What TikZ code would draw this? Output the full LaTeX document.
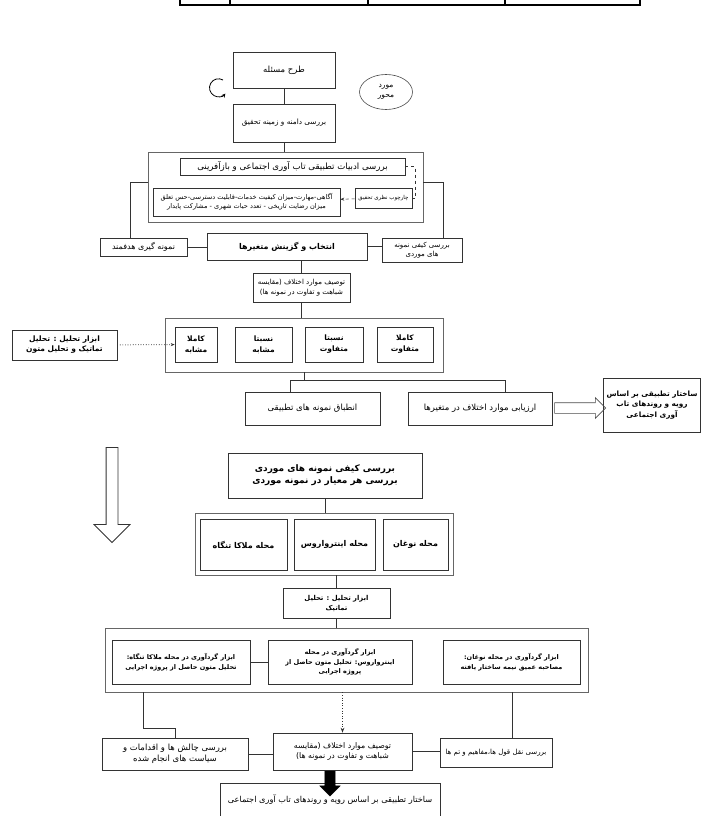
\documentclass[tikz,border=0pt]{standalone}
\usepackage{fontspec}
\usepackage{tikz}
\usetikzlibrary{shapes.geometric,shapes.arrows,arrows.meta,positioning}
\newfontfamily\farsi[Script=Arabic]{DejaVu Sans}
\TeXXeTstate=1
\newcommand{\fa}[1]{{\farsi\beginR #1\endR}}
\tikzset
{
    box/.style      = {draw=black!80, line width=0.6pt, align=center, inner sep=1pt, fill=white},
    outerbox/.style = {draw=black!60, line width=0.8pt, inner sep=0pt},
    link/.style     = {draw=black!80, line width=0.6pt},
    fs/.style 2 args  = {font=\fontsize{#1}{#2}\selectfont},
    fsb/.style 2 args = {font=\fontsize{#1}{#2}\selectfont\bfseries}
}
\begin{document}
\begin{tikzpicture}[x=1pt, y=-1pt]
    \useasboundingbox (0,0) rectangle (704,816);
    \draw[line width=1.2pt] (180,0) -- (180,5) -- (640,5) -- (640,0);
    \foreach \x in {230,368,505} \draw[line width=1.2pt] (\x,0) -- (\x,5);

    \node[box, fs={8.5}{10}, minimum width=102pt, minimum height=36pt] (problem) at (284,70) {\fa{طرح مسئله}};
    \node[draw=black!70, ellipse, line width=0.6pt, align=center, inner sep=0pt, minimum width=53pt, minimum height=35pt, fs={7.5}{9.5}] (focus) at (386,92) {\fa{مورد}\\\fa{محور}};
    \node[box, fs={7.3}{9}, minimum width=102pt, minimum height=38pt] (scope) at (284,123) {\fa{بررسی دامنه و زمینه تحقیق}};
    \draw[link] (problem) -- (scope);
    \draw[-{Stealth[length=4pt, width=4pt]}, line width=0.8pt] (223,80) arc[start angle=-60, end angle=-320, radius=9];

    \node[outerbox, minimum width=275pt, minimum height=70pt] (litframe) at (285.5,187) {};
    \draw[link] (scope) -- (scope |- litframe.north);
    \node[box, fs={8.6}{10}, minimum width=225pt, minimum height=17pt] (literature) at (292.5,166.5) {\fa{بررسی ادبیات تطبیقی تاب آوری اجتماعی و بازآفرینی}};
    \node[box, fs={6.6}{9}, minimum width=187pt, minimum height=28pt] (indicators) at (246.5,202) {\fa{آگاهی-مهارت-میزان کیفیت خدمات-قابلیت دسترسی-حس تعلق}\\\fa{میزان رضایت تاریخی - تعدد حیات شهری - مشارکت پایدار}};
    \node[box, fs={5.5}{7}, minimum width=57pt, minimum height=20pt] (framework) at (383.5,198) {\fa{چارچوب نظری تحقیق}};
    \draw[link, dashed] (literature.east) -- ++(10,0) |- (framework.east);
    \draw[link, dashed, -{Stealth[length=4pt]}] (framework) -- (indicators);

    \node[box, fs={8}{10}, minimum width=87pt, minimum height=18pt] (sampling) at (143.5,247) {\fa{نمونه گیری هدفمند}};
    \node[box, fsb={8}{10}, minimum width=160pt, minimum height=27pt] (selection) at (287,246.5) {\fa{انتخاب و گزینش متغیرها}};
    \node[box, fs={7}{9}, minimum width=80pt, minimum height=24pt] (casestudy) at (422,250) {\fa{بررسی کیفی نمونه}\\\fa{های موردی}};
    \draw[link] ([yshift=5pt]litframe.west) -| ([xshift=-13.5pt]sampling.north);
    \draw[link] ([yshift=5pt]litframe.east) -| ([xshift=21pt]casestudy.north);
    \draw[link] (sampling.east) -- (sampling.east -| selection.west);
    \draw[link] (selection.east) -- (selection.east -| casestudy.west);

    \node[box, fs={7}{9.5}, minimum width=97pt, minimum height=29pt] (compare) at (301.5,287.5) {\fa{توصیف موارد اختلاف (مقایسه}\\\fa{شباهت و تفاوت در نمونه ها)}};
    \draw[link] (selection.south -| compare.north) -- (compare.north);

    \node[outerbox, minimum width=278pt, minimum height=54pt] (degrees) at (304,345) {};
    \draw[link] (compare.south) -- (compare.south |- degrees.north);
    \node[box, fsb={7.5}{11}, minimum width=42pt, minimum height=35pt] (simfull) at (196,344.5) {\fa{کاملا}\\\fa{مشابه}};
    \node[box, fsb={7.5}{11}, minimum width=57pt, minimum height=35pt] (simpart) at (263.5,344.5) {\fa{نسبتا}\\\fa{مشابه}};
    \node[box, fsb={7.5}{11}, minimum width=58pt, minimum height=35pt] (difpart) at (334,344.5) {\fa{نسبتا}\\\fa{متفاوت}};
    \node[box, fsb={7.5}{11}, minimum width=56pt, minimum height=35pt] (diffull) at (405,344.5) {\fa{کاملا}\\\fa{متفاوت}};
    \node[box, fsb={7.5}{10}, minimum width=105pt, minimum height=30pt] (tools) at (64.5,345) {\fa{ابزار تحلیل : تحلیل}\\\fa{تماتیک و تحلیل متون}};
    \draw[link, dotted, line width=1pt, -{Stealth[length=4pt]}] (tools) -- (simfull);

    \node[box, fs={8.5}{10}, minimum width=135pt, minimum height=33pt] (matching) at (312.5,408.5) {\fa{انطباق نمونه های تطبیقی}};
    \node[box, fs={8.5}{10}, minimum width=144pt, minimum height=33pt] (evaluation) at (480,408.5) {\fa{ارزیابی موارد اختلاف در متغیرها}};
    \draw[link] (degrees.south) -- ++(0,8) coordinate (split);
    \draw[link] ([xshift=-22pt]matching.north) |- (split) -| ([xshift=25pt]evaluation.north);
    \node[box, fsb={7.3}{10.5}, minimum width=97pt, minimum height=54pt] (structure) at (652,405) {\fa{ساختار تطبیقی بر اساس}\\\fa{رویه و روندهای تاب}\\\fa{آوری اجتماعی}};
    \node[single arrow, draw=black!70, line width=0.6pt, inner sep=5pt, single arrow head extend=5pt, minimum height=51pt] (toright) at (577.5,408) {};

    \node[single arrow, draw=black!80, line width=0.8pt, shape border rotate=270, inner sep=5.5pt, single arrow head extend=12pt, minimum height=95pt] (bigdown) at (112,492) {};
    \node[box, fsb={9}{12}, minimum width=194pt, minimum height=45pt] (qualitative) at (325,475.5) {\fa{بررسی کیفی نمونه های موردی}\\\fa{بررسی هر معیار در نمونه موردی}};
    \node[outerbox, minimum width=258pt, minimum height=62pt] (cases) at (324,544) {};
    \draw[link] (qualitative) -- (qualitative |- cases.north);
    \node[box, fsb={8}{10}, minimum width=87pt, minimum height=51pt] (melaka) at (243.5,544.5) {\fa{محله ملاکا تنگاه}};
    \node[box, fsb={8}{10}, minimum width=81pt, minimum height=51pt] (intra) at (334.5,544.5) {\fa{محله اینترواروس}};
    \node[box, fsb={8}{10}, minimum width=65pt, minimum height=51pt] (noghan) at (415.5,544.5) {\fa{محله نوغان}};

    \node[box, fsb={6.8}{10}, minimum width=107pt, minimum height=30pt] (thematic) at (336.5,603) {\fa{ابزار تحلیل : تحلیل}\\\fa{تماتیک}};
    \draw[link] (cases.south -| thematic.north) -- (thematic.north);
    \node[outerbox, minimum width=483pt, minimum height=64pt] (collect) at (346.5,660) {};
    \draw[link] (thematic.south) -- (thematic.south |- collect.north);
    \node[box, fsb={6.5}{9.5}, minimum width=138pt, minimum height=44pt] (gmelaka) at (181,662) {\fa{ابزار گردآوری در محله ملاکا تنگاه:}\\\fa{تحلیل متون حاصل از پروژه اجرایی}};
    \node[box, fsb={6.5}{9.5}, minimum width=144pt, minimum height=44pt] (gintra) at (340,662) {\fa{ابزار گردآوری در محله}\\\fa{اینترواروس: تحلیل متون حاصل از}\\\fa{پروژه اجرایی}};
    \node[box, fsb={6.5}{9.5}, minimum width=137pt, minimum height=44pt] (gnoghan) at (511.5,662) {\fa{ابزار گردآوری در محله نوغان:}\\\fa{مصاحبه عمیق نیمه ساختار یافته}};
    \draw[link] (gmelaka.east) -- (gmelaka.east -| gintra.west);

    \node[box, fs={8.5}{11}, minimum width=146pt, minimum height=32pt] (challenges) at (175,754) {\fa{بررسی چالش ها و اقدامات و}\\\fa{سیاست های انجام شده}};
    \node[box, fs={7.8}{10.5}, minimum width=139pt, minimum height=37pt] (comparison) at (342.5,751.5) {\fa{توصیف موارد اختلاف (مقایسه}\\\fa{شباهت و تفاوت در نمونه ها)}};
    \node[box, fs={7}{10}, minimum width=112pt, minimum height=29pt] (quotes) at (496,752.5) {\fa{بررسی نقل قول ها،مفاهیم و تم ها}};
    \path ([xshift=-38pt]gmelaka.south) coordinate (leftdrop);
    \path ([xshift=16pt]quotes.north) coordinate (rightdrop);
    \draw[link] (leftdrop |- collect.south) -- ++(0,36) -| (challenges.north);
    \draw[link] (rightdrop |- collect.south) -- (rightdrop);
    \draw[link, dotted, line width=1pt, -{Stealth[length=5pt]}] (collect.south -| comparison.north) -- (comparison.north);
    \draw[link] (challenges.east) -- (challenges.east -| comparison.west);
    \draw[link] (comparison.east) -- (comparison.east -| quotes.west);

    \node[box, fs={8.2}{10}, minimum width=220pt, minimum height=33pt] (final) at (330,799.5) {\fa{ساختار تطبیقی بر اساس رویه و روندهای تاب آوری اجتماعی}};
    \node[single arrow, fill=black, draw=black, shape border rotate=270, inner sep=5pt, single arrow head extend=5pt, minimum height=25pt] (down) at (330,781) {};
\end{tikzpicture}
\end{document}
